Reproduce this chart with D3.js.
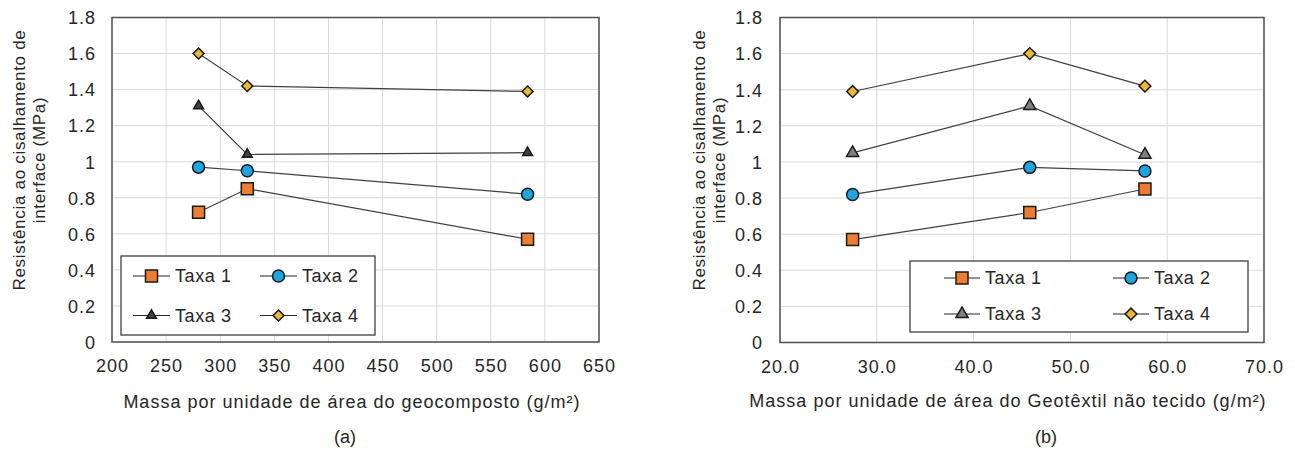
<!DOCTYPE html>
<html>
<head>
<meta charset="utf-8">
<script src="https://cdn.jsdelivr.net/npm/d3@7"></script>
<style>
  html, body { margin: 0; padding: 0; background: #fff; }
  svg { display: block; }
  text { font-family: "Liberation Sans", Arial, sans-serif; fill: #262626; }
</style>
</head>
<body>
<svg id="chart" width="1295" height="453"></svg>
<script>
// ---- data ----
const seriesNames = ["Taxa 1", "Taxa 2", "Taxa 3", "Taxa 4"];
const geocompostoMass = [280, 325, 584];
const geotextilMass = [27.5, 45.8, 57.7];
const taxa1A = [0.72, 0.85, 0.57];
const taxa2A = [0.97, 0.95, 0.82];
const taxa3A = [1.31, 1.04, 1.05];
const taxa4A = [1.60, 1.42, 1.39];
const taxa1B = [0.57, 0.72, 0.85];
const taxa2B = [0.82, 0.97, 0.95];
const taxa3B = [1.05, 1.31, 1.04];
const taxa4B = [1.39, 1.60, 1.42];
const yTicks = [0, 0.2, 0.4, 0.6, 0.8, 1, 1.2, 1.4, 1.6, 1.8];
const yTickLabels = ["0", "0.2", "0.4", "0.6", "0.8", "1", "1.2", "1.4", "1.6", "1.8"];
const xTicksA = [200, 250, 300, 350, 400, 450, 500, 550, 600, 650];
const xTicksB = [20, 30, 40, 50, 60, 70];
const xTickLabelsB = ["20.0", "30.0", "40.0", "50.0", "60.0", "70.0"];
const yTitleLines = ["Resistência ao cisalhamento de", "interface (MPa)"];
const xTitleA = "Massa por unidade de área do geocomposto (g/m²)";
const xTitleB = "Massa por unidade de área do Geotêxtil não tecido (g/m²)";

const svg = d3.select("#chart");

const styles = [
  { type: d3.symbolSquare, fill: "#ED7D31", rot: 0 },
  { type: d3.symbolCircle, fill: "#1EA5DF", rot: 0 },
  { type: d3.symbolTriangle, fill: "#404040", rot: 0 },
  { type: d3.symbolSquare, fill: "#EBB93A", rot: 45 }
];

function drawPanel(cfg) {
  const x = d3.scaleLinear().domain(cfg.xDomain).range([cfg.left, cfg.right]);
  const y = d3.scaleLinear().domain([0, 1.8]).range([cfg.bottom, cfg.top]);
  const g = svg.append("g");

  // grid
  g.append("g").selectAll("line.h").data(yTicks).join("line")
    .attr("x1", cfg.left).attr("x2", cfg.right)
    .attr("y1", d => y(d)).attr("y2", d => y(d))
    .attr("stroke", "#D9D9D9").attr("stroke-width", 1);
  g.append("g").selectAll("line.v").data(cfg.xTicks).join("line")
    .attr("y1", cfg.top).attr("y2", cfg.bottom)
    .attr("x1", d => x(d)).attr("x2", d => x(d))
    .attr("stroke", "#D9D9D9").attr("stroke-width", 1);

  // plot border
  g.append("rect").attr("x", cfg.left).attr("y", cfg.top)
    .attr("width", cfg.right - cfg.left).attr("height", cfg.bottom - cfg.top)
    .attr("fill", "none").attr("stroke", "#505050").attr("stroke-width", 1.5);

  // y axis labels
  const yAxis = d3.axisLeft(y).tickValues(yTicks).tickSize(0).tickPadding(0)
    .tickFormat((d, i) => yTickLabels[i]);
  const ya = g.append("g").attr("transform", `translate(${cfg.yLabelX},0)`).call(yAxis);
  ya.select(".domain").remove();
  ya.selectAll("text").attr("font-size", 18).attr("font-family", "Liberation Sans, Arial, sans-serif")
    .attr("fill", "#262626").style("letter-spacing", "1px").attr("dy", "0.35em");

  // x axis labels
  const xAxis = d3.axisBottom(x).tickValues(cfg.xTicks).tickSize(0).tickPadding(0)
    .tickFormat((d, i) => cfg.xTickLabels[i]);
  const xa = g.append("g").attr("transform", `translate(0,${cfg.xLabelY})`).call(xAxis);
  xa.select(".domain").remove();
  xa.selectAll("text").attr("font-size", 18).attr("font-family", "Liberation Sans, Arial, sans-serif")
    .attr("fill", "#262626").style("letter-spacing", "1px").attr("dy", "0.35em");

  // series
  const line = d3.line().x(d => x(d[0])).y(d => y(d[1]));
  cfg.series.forEach((vals, si) => {
    const pts = cfg.xVals.map((xv, i) => [xv, vals[i]]);
    g.append("path").attr("d", line(pts)).attr("fill", "none")
      .attr("stroke", "#404040").attr("stroke-width", 1.2);
    const st = styles[si];
    const fill = si === 2 ? cfg.triFill : st.fill;
    g.append("g").selectAll("path").data(pts).join("path")
      .attr("d", d3.symbol().type(st.type).size(cfg.sizes[si]))
      .attr("transform", d => `translate(${x(d[0])},${y(d[1])}) rotate(${st.rot})`)
      .attr("fill", fill).attr("stroke", "#1a1a1a").attr("stroke-width", 1.5);
  });

  // y title
  yTitleLines.forEach((t, i) => {
    g.append("text")
      .attr("transform", `translate(${cfg.yTitleX[i]},${cfg.yTitleCy}) rotate(-90)`)
      .attr("text-anchor", "middle").attr("dy", "0.35em")
      .attr("font-size", 17).style("letter-spacing", "0.7px").text(t);
  });

  // x title
  g.append("text").attr("x", cfg.xTitleCx).attr("y", cfg.xTitleY)
    .attr("text-anchor", "middle").attr("dy", "0.35em")
    .attr("font-size", 18).style("letter-spacing", "1px").text(cfg.xTitle);

  // panel letter
  g.append("text").attr("x", cfg.letterCx).attr("y", 437)
    .attr("text-anchor", "middle").attr("dy", "0.35em")
    .attr("font-size", 18).attr("font-family", "Open Sans, Noto Sans, sans-serif")
    .attr("fill", "#000").text(cfg.letter);

  // legend
  const L = cfg.legend;
  g.append("rect").attr("x", L.x).attr("y", L.y).attr("width", L.w).attr("height", L.h)
    .attr("fill", "#fff").attr("stroke", "#404040").attr("stroke-width", 1.3);
  seriesNames.forEach((name, si) => {
    const col = si % 2, row = Math.floor(si / 2);
    const lx = L.colX[col], ly = L.rowY[row];
    g.append("line").attr("x1", lx).attr("x2", lx + L.lineLen).attr("y1", ly).attr("y2", ly)
      .attr("stroke", "#262626").attr("stroke-width", 1.2);
    const st = styles[si];
    const fill = si === 2 ? cfg.triFill : st.fill;
    g.append("path").attr("d", d3.symbol().type(st.type).size(cfg.sizes[si]))
      .attr("transform", `translate(${lx + L.lineLen / 2},${ly}) rotate(${st.rot})`)
      .attr("fill", fill).attr("stroke", "#1a1a1a").attr("stroke-width", 1.5);
    g.append("text").attr("x", lx + L.lineLen + 5).attr("y", ly).attr("dy", "0.35em")
      .attr("font-size", 18).style("letter-spacing", "0.6px").text(name);
  });
}

drawPanel({
  xDomain: [200, 650], left: 112, right: 599, top: 17.5, bottom: 342,
  xTicks: xTicksA, xTickLabels: xTicksA.map(String),
  xVals: geocompostoMass, series: [taxa1A, taxa2A, taxa3A, taxa4A],
  sizes: [144, 113, 42, 60], triFill: "#404040",
  yLabelX: 96, xLabelY: 366,
  yTitleX: [19.5, 39.5], yTitleCy: 160,
  xTitle: xTitleA, xTitleCx: 352, xTitleY: 402,
  letter: "(a)", letterCx: 345,
  legend: { x: 121, y: 256, w: 254, h: 79, colX: [133, 260], rowY: [276, 315.5], lineLen: 37 }
});

drawPanel({
  xDomain: [20, 70], left: 780, right: 1264, top: 17.5, bottom: 342.5,
  xTicks: xTicksB, xTickLabels: xTickLabelsB,
  xVals: geotextilMass, series: [taxa1B, taxa2B, taxa3B, taxa4B],
  sizes: [144, 113, 64, 70], triFill: "#7F7F7F",
  yLabelX: 763, xLabelY: 367,
  yTitleX: [699, 719.5], yTitleCy: 160,
  xTitle: xTitleB, xTitleCx: 1008, xTitleY: 401,
  letter: "(b)", letterCx: 1046,
  legend: { x: 910, y: 261, w: 338, h: 71, colX: [944, 1113], rowY: [278, 314], lineLen: 36 }
});
</script>
</body>
</html>
